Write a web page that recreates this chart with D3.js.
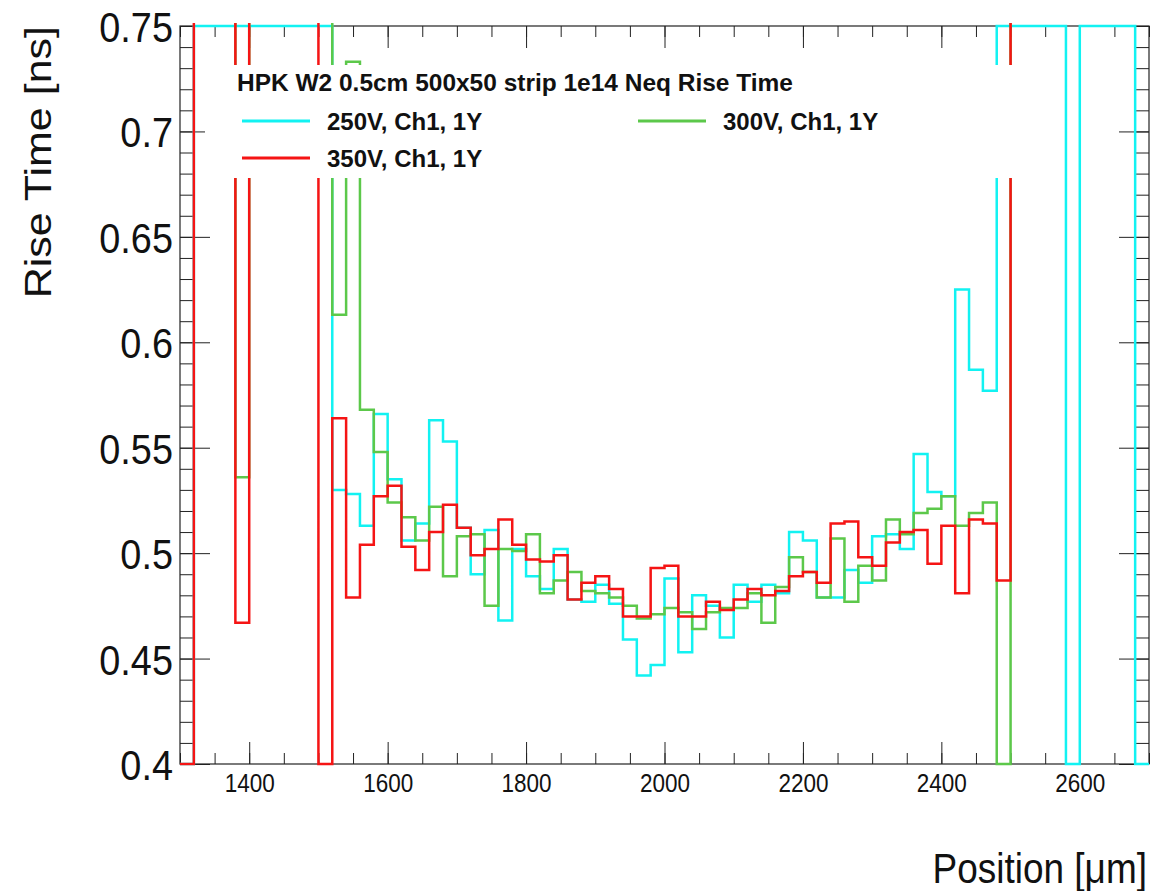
<!DOCTYPE html>
<html>
<head>
<meta charset="utf-8">
<script src="https://cdn.jsdelivr.net/npm/d3@7"></script>
<style>
  body { margin: 0; background: #fff; }
  svg { display: block; }
</style>
</head>
<body>
<div id="chart"></div>
<script>
// Bin low edges (20 um bins, 1300 -> 2700)
const positions = d3.range(1300, 2700, 20);

// Rise time per bin [ns]; 0 = below the axis range, 1 = above it
const rise250 = [0, 1, 1, 1, 1, 1, 1, 1, 1, 1, 1,
  0.530, 0.528, 0.513, 0.566, 0.535, 0.506, 0.514, 0.563, 0.553, 0.512,
  0.490, 0.511, 0.468, 0.502, 0.489, 0.483, 0.502, 0.478, 0.477, 0.485,
  0.476, 0.459, 0.442, 0.447, 0.488, 0.453, 0.480, 0.475, 0.460, 0.485,
  0.477, 0.485, 0.481, 0.510, 0.506, 0.479, 0.479, 0.492, 0.486, 0.508,
  0.509, 0.502, 0.547, 0.529, 0.527, 0.625, 0.587, 0.577,
  1, 1, 1, 1, 1, 0, 1, 1, 1, 1, 0];

const rise300 = [1, 1, 1, 1, 0.536, 1, 1, 1, 1, 1, 1,
  0.613, 0.733, 0.568, 0.548, 0.524, 0.517, 0.506, 0.522, 0.489, 0.508,
  0.509, 0.475, 0.502, 0.501, 0.509, 0.481, 0.487, 0.491, 0.482, 0.481,
  0.479, 0.475, 0.469, 0.471, 0.474, 0.472, 0.464, 0.472, 0.474, 0.474,
  0.481, 0.467, 0.484, 0.498, 0.491, 0.479, 0.507, 0.477, 0.494, 0.487,
  0.516, 0.509, 0.519, 0.521, 0.527, 0.513, 0.519, 0.524,
  0, 1, 1, 1, 1, 1, 1, 1, 1, 1, 1];

const rise350 = [0, 1, 1, 1, 0.467, 1, 1, 1, 1, 1, 0,
  0.564, 0.479, 0.504, 0.527, 0.532, 0.503, 0.492, 0.510, 0.523, 0.512,
  0.499, 0.502, 0.516, 0.504, 0.497, 0.496, 0.499, 0.478, 0.486, 0.489,
  0.483, 0.470, 0.470, 0.493, 0.494, 0.470, 0.470, 0.477, 0.473, 0.478,
  0.483, 0.480, 0.482, 0.489, 0.491, 0.486, 0.514, 0.515, 0.498, 0.494,
  0.505, 0.510, 0.511, 0.495, 0.513, 0.481, 0.516, 0.514, 0.487,
  1, 1, 1, 1, 1, 1, 1, 1, 1, 1];

const xTicks = [1400, 1600, 1800, 2000, 2200, 2400, 2600];
const yTicks = [0.4, 0.45, 0.5, 0.55, 0.6, 0.65, 0.7, 0.75];

const series = [
  { label: "250V, Ch1, 1Y", values: rise250, color: "#12f2f2", clampTop: true },
  { label: "300V, Ch1, 1Y", values: rise300, color: "#5cc84a", clampTop: false },
  { label: "350V, Ch1, 1Y", values: rise350, color: "#f51414", clampTop: false }
];

const W = 1173, H = 891;
const frame = { left: 180, right: 1149, top: 26, bottom: 764 };

const svg = d3.select("#chart").append("svg")
  .attr("width", W)
  .attr("height", H)
  .style("font-family", "'Liberation Sans', Arial, sans-serif");

svg.append("rect").attr("width", W).attr("height", H).attr("fill", "#fff");

const xScale = d3.scaleLinear().domain([1300, 2700]).range([frame.left, frame.right]);
const yScale = d3.scaleLinear().domain([0.4, 0.75]).range([frame.bottom, frame.top]);

// Minor ticks on all four sides
const xMinor = d3.range(1300, 2701, 50);
const yMinor = d3.range(0, 36).map(i => 0.4 + i * 0.01);

function tidy(g) {
  g.select(".domain").remove();
  g.selectAll("line").attr("stroke", "#222").attr("stroke-width", 1);
}

svg.append("g").attr("transform", `translate(0,${frame.bottom})`)
  .call(d3.axisBottom(xScale).tickValues(xMinor).tickSizeInner(-11).tickSizeOuter(0).tickFormat(""))
  .call(tidy);
svg.append("g").attr("transform", `translate(0,${frame.top})`)
  .call(d3.axisTop(xScale).tickValues(xMinor).tickSizeInner(-11).tickSizeOuter(0).tickFormat(""))
  .call(tidy);
svg.append("g").attr("transform", `translate(0,${frame.top})`)
  .call(d3.axisTop(xScale).tickValues(xTicks).tickSizeInner(-22).tickSizeOuter(0).tickFormat(""))
  .call(tidy);
svg.append("g").attr("transform", `translate(${frame.left},0)`)
  .call(d3.axisLeft(yScale).tickValues(yMinor).tickSizeInner(-14.5).tickSizeOuter(0).tickFormat(""))
  .call(tidy);
svg.append("g").attr("transform", `translate(${frame.right},0)`)
  .call(d3.axisRight(yScale).tickValues(yMinor).tickSizeInner(-14.5).tickSizeOuter(0).tickFormat(""))
  .call(tidy);
svg.append("g").attr("transform", `translate(${frame.right},0)`)
  .call(d3.axisRight(yScale).tickValues(yTicks).tickSizeInner(-30).tickSizeOuter(0).tickFormat(""))
  .call(tidy);

// Major ticks with labels
const xAxis = svg.append("g").attr("transform", `translate(0,${frame.bottom})`)
  .call(d3.axisBottom(xScale).tickValues(xTicks).tickSizeInner(-22).tickSizeOuter(0).tickPadding(10)
    .tickFormat(d3.format("d")))
  .call(tidy);
xAxis.selectAll("text")
  .attr("font-size", 25)
  .attr("font-family", "'Liberation Sans', Arial, sans-serif")
  .attr("fill", "#111")
  .attr("transform", "scale(0.9,1)");

const yAxis = svg.append("g").attr("transform", `translate(${frame.left},0)`)
  .call(d3.axisLeft(yScale).tickValues(yTicks).tickSizeInner(-30).tickSizeOuter(0).tickPadding(8)
    .tickFormat(d => String(+d.toFixed(2))))
  .call(tidy);
yAxis.selectAll("text")
  .attr("font-size", 43)
  .attr("font-family", "'Liberation Sans', Arial, sans-serif")
  .attr("fill", "#111")
  .attr("dy", "0.36em")
  .attr("transform", "scale(0.88,1)");

// Frame
svg.append("rect")
  .attr("x", frame.left).attr("y", frame.top)
  .attr("width", frame.right - frame.left)
  .attr("height", frame.bottom - frame.top)
  .attr("fill", "none").attr("stroke", "#222").attr("stroke-width", 1.2);

// Axis titles
svg.append("text")
  .attr("transform", `translate(1147,883) scale(0.86,1)`)
  .attr("text-anchor", "end")
  .attr("font-size", 43)
  .attr("fill", "#111")
  .text("Position [μm]");

svg.append("text")
  .attr("transform", `translate(51,26) rotate(-90) scale(1,0.86)`)
  .attr("text-anchor", "end")
  .attr("font-size", 43)
  .attr("fill", "#111")
  .text("Rise Time [ns]");

// Histograms
svg.append("clipPath").attr("id", "plotClip")
  .append("rect")
  .attr("x", frame.left).attr("y", frame.top - 3)
  .attr("width", frame.right - frame.left)
  .attr("height", frame.bottom - frame.top + 6);

const stepLine = d3.line()
  .x(d => xScale(d.x))
  .y(d => yScale(d.v))
  .curve(d3.curveStepAfter);

series.forEach(s => {
  const pts = positions.map((p, i) => {
    let v = Math.max(s.values[i], 0.4);
    if (s.clampTop) v = Math.min(v, 0.75);
    return { x: p, v: v };
  });
  pts.push({ x: 2700, v: pts[pts.length - 1].v });

  svg.append("path")
    .datum(pts)
    .attr("clip-path", "url(#plotClip)")
    .attr("fill", "none")
    .attr("stroke", s.color)
    .attr("stroke-width", 2.5)
    .attr("d", stepLine);
});

// Legend (white box over the histograms)
const legend = svg.append("g");
legend.append("rect")
  .attr("x", 205).attr("y", 65)
  .attr("width", 835).attr("height", 113)
  .attr("fill", "#fff");

legend.append("text")
  .attr("transform", "translate(237,91) scale(1.02,1)")
  .attr("font-size", 24)
  .attr("font-weight", "bold")
  .attr("fill", "#111")
  .text("HPK W2 0.5cm 500x50 strip 1e14 Neq Rise Time");

const slots = [
  { x: 242, y: 121 },
  { x: 638, y: 121 },
  { x: 242, y: 158 }
];

series.forEach((s, i) => {
  const slot = slots[i];
  legend.append("line")
    .attr("x1", slot.x).attr("x2", slot.x + 68)
    .attr("y1", slot.y).attr("y2", slot.y)
    .attr("stroke", s.color)
    .attr("stroke-width", 2.8);
  legend.append("text")
    .attr("x", slot.x + 85)
    .attr("y", slot.y + 9)
    .attr("font-size", 24)
    .attr("font-weight", "bold")
    .attr("fill", "#111")
    .text(s.label);
});
</script>
</body>
</html>
